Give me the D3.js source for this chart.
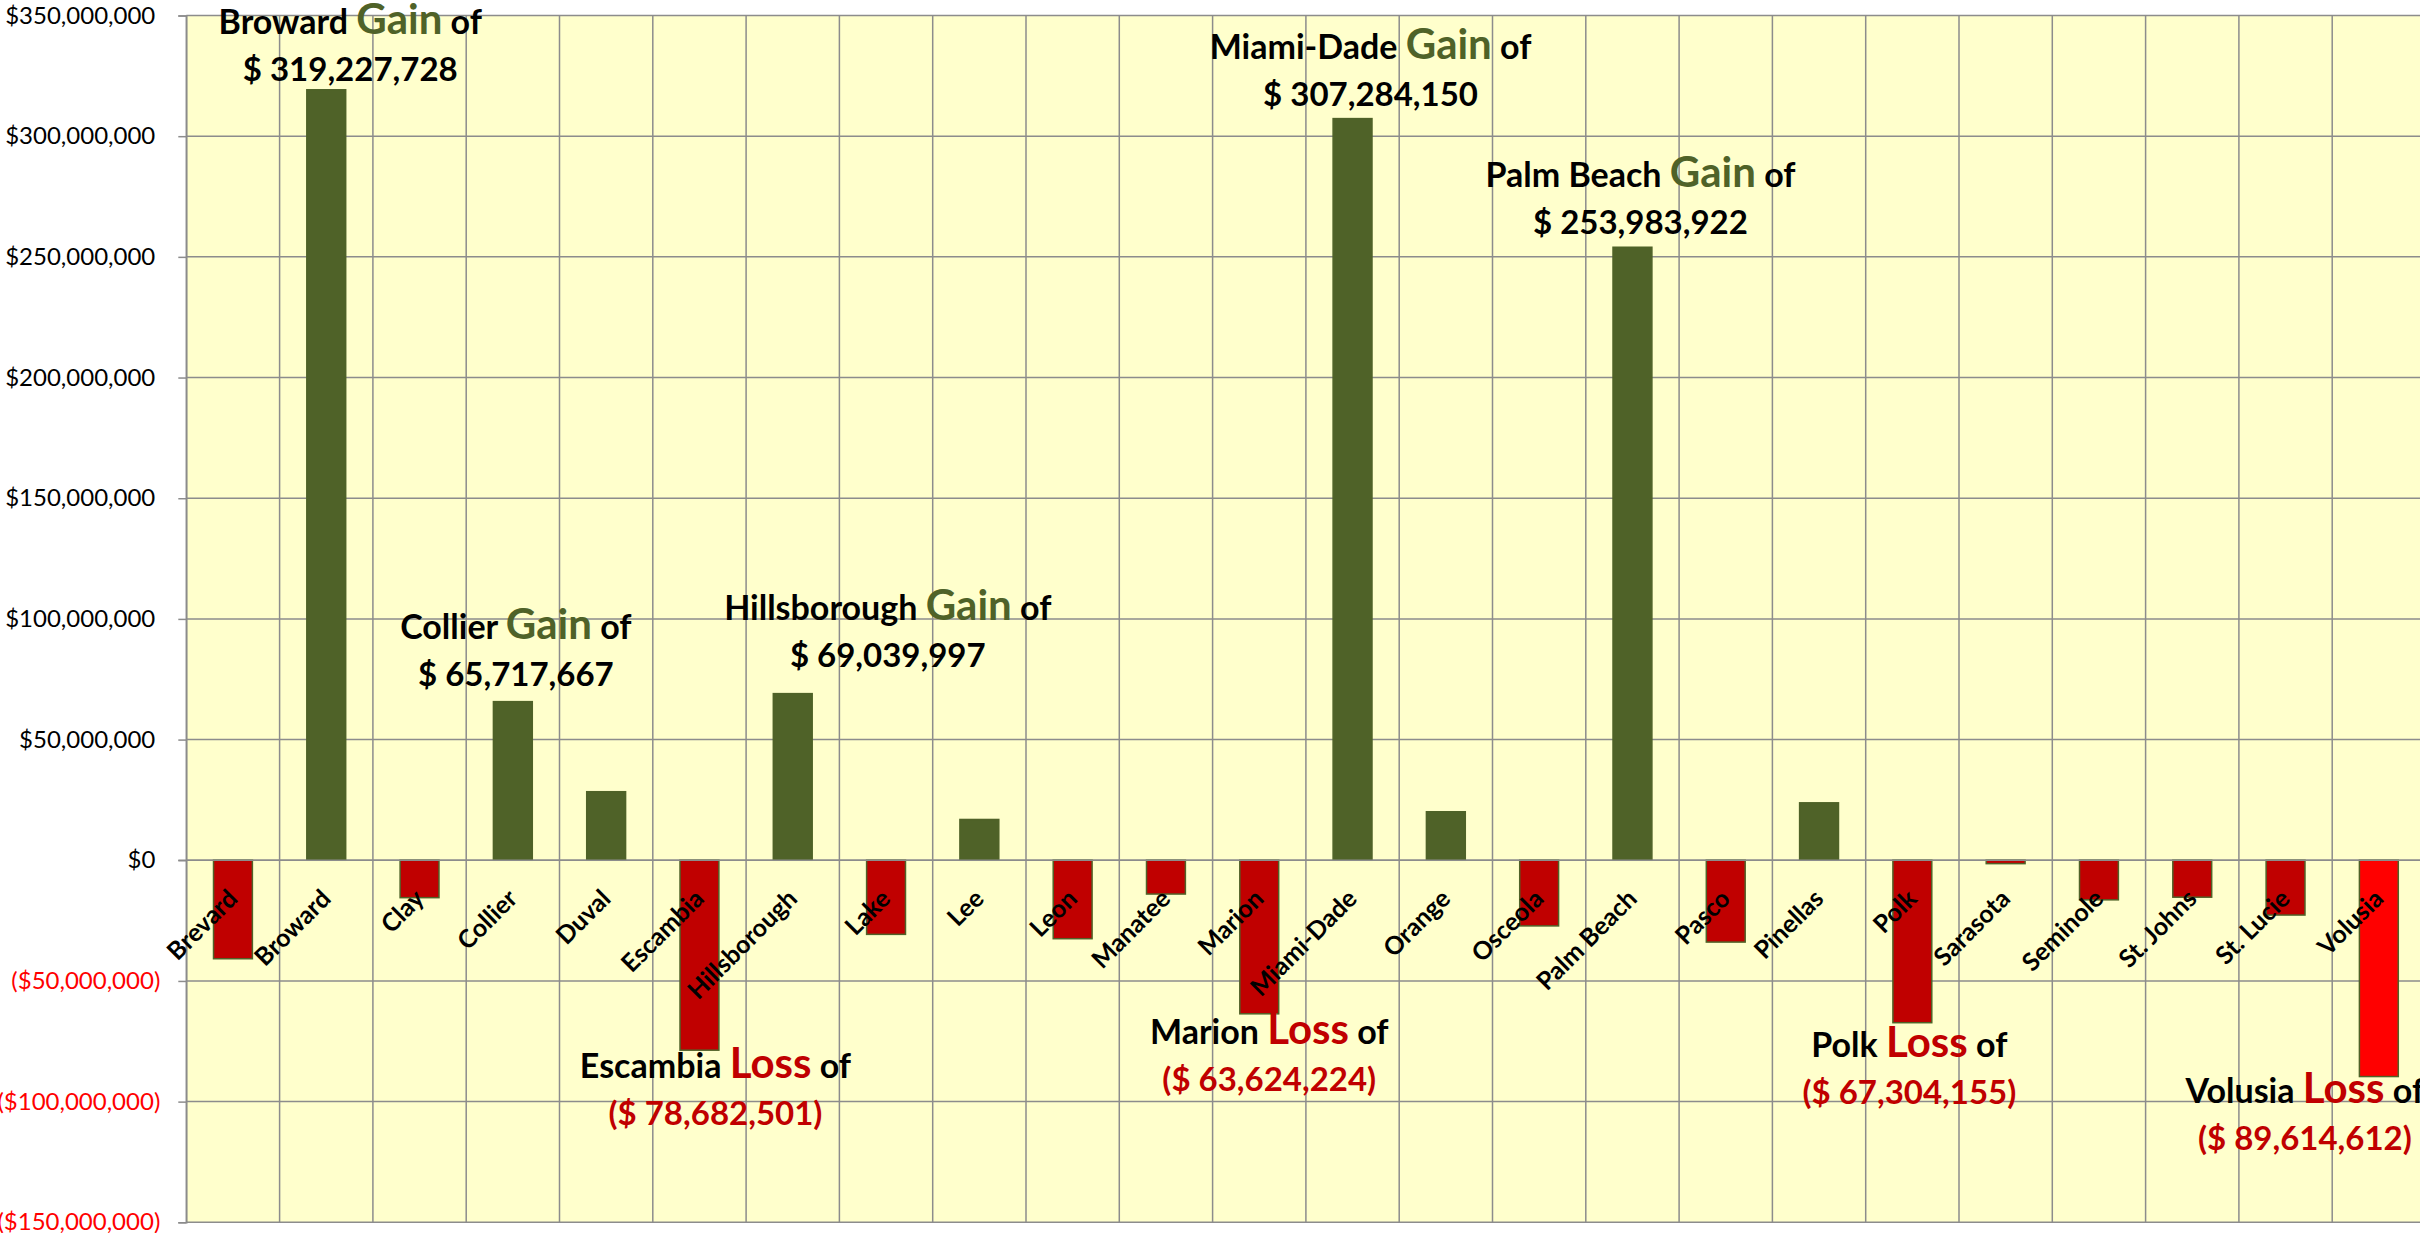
<!DOCTYPE html>
<html>
<head>
<meta charset="utf-8">
<script src="https://cdn.jsdelivr.net/npm/d3@7"></script>
<style>
  body { margin: 0; background: #fff; }
  svg { display: block; font-family: Lato, "Noto Sans", sans-serif; }
</style>
</head>
<body>
<div class="displayArea"></div>
<script>
// county names along the x axis
var counties = ["Brevard", "Broward", "Clay", "Collier", "Duval", "Escambia", "Hillsborough", "Lake", "Lee", "Leon",
    "Manatee", "Marion", "Miami-Dade", "Orange", "Osceola", "Palm Beach", "Pasco", "Pinellas", "Polk", "Sarasota",
    "Seminole", "St. Johns", "St. Lucie", "Volusia"];

// gain / loss per county in dollars (labelled ones are exact)
var amounts = [-40800000, 319227728, -15500000, 65717667, 28400000, -78682501, 69039997, -30700000, 16900000, -32500000,
    -14000000, -63624224, 307284150, 20100000, -27200000, 253983922, -33900000, 23800000, -67304155, -1400000,
    -16400000, -15300000, -22700000, -89614612];

// y axis ticks
var yTicks = [-150000000, -100000000, -50000000, 0, 50000000, 100000000, 150000000, 200000000, 250000000, 300000000, 350000000];

// which counties get a callout
var calloutCounties = ["Broward", "Collier", "Hillsborough", "Miami-Dade", "Palm Beach", "Escambia", "Marion", "Polk", "Volusia"];

var width = 2420, height = 1233;
var plotLeft = 186.3, step = 93.3;
var plotTop = 15.5, plotBottom = 1222.3;

var svg = d3.select(".displayArea").append("svg")
    .attr("width", width)
    .attr("height", height);

var xScale = d3.scaleBand()
    .domain(counties)
    .range([plotLeft, plotLeft + step * counties.length])
    .paddingInner(1.4 / 2.4)
    .paddingOuter(0.7 / 2.4);

var yScale = d3.scaleLinear()
    .domain([d3.min(yTicks), d3.max(yTicks)])
    .range([plotBottom, plotTop]);

var plotRight = plotLeft + step * counties.length;

// plot background
svg.append("rect")
    .attr("x", plotLeft).attr("y", plotTop)
    .attr("width", plotRight - plotLeft).attr("height", plotBottom - plotTop)
    .attr("fill", "#FFFFCC");

// horizontal gridlines
svg.append("g").selectAll("line")
    .data(yTicks)
    .enter().append("line")
    .attr("x1", plotLeft).attr("x2", plotRight)
    .attr("y1", function (d) { return yScale(d); })
    .attr("y2", function (d) { return yScale(d); })
    .attr("stroke", "#8C8C8C").attr("stroke-width", 1.5);

// vertical gridlines at category boundaries
svg.append("g").selectAll("line")
    .data(d3.range(counties.length + 1))
    .enter().append("line")
    .attr("x1", function (i) { return plotLeft + i * xScale.step(); })
    .attr("x2", function (i) { return plotLeft + i * xScale.step(); })
    .attr("y1", plotTop).attr("y2", plotBottom)
    .attr("stroke", "#8C8C8C").attr("stroke-width", 1.5);

// y axis
var money = d3.format("$,");
var yAxis = d3.axisLeft(yScale)
    .tickValues(yTicks)
    .tickSize(8)
    .tickPadding(23)
    .tickFormat(function (d) { return d < 0 ? "(" + money(-d) + ")" : money(d); });

var yG = svg.append("g")
    .attr("transform", `translate(${plotLeft},0)`)
    .call(yAxis);
yG.select(".domain").attr("stroke", "#8C8C8C").attr("stroke-width", 1.5);
yG.selectAll(".tick line").attr("stroke", "#8C8C8C").attr("stroke-width", 1.5);
yG.selectAll(".tick text")
    .attr("font-family", "Lato, sans-serif")
    .attr("font-size", 24)
    .attr("fill", function (d) { return d < 0 ? "#FF0000" : "#000"; })
    .attr("dx", function (d) { return d < 0 ? 5 : 0; });

// bars
svg.append("g").selectAll("rect")
    .data(counties)
    .enter().append("rect")
    .attr("x", function (d) { return xScale(d); })
    .attr("width", xScale.bandwidth())
    .attr("y", function (d, i) { return yScale(Math.max(0, amounts[i])); })
    .attr("height", function (d, i) { return Math.abs(yScale(amounts[i]) - yScale(0)); })
    .attr("fill", function (d, i) {
        if (amounts[i] >= 0) return "#4F6228";
        return d == "Volusia" ? "#FF0000" : "#C00000";
    })
    .attr("stroke", "#4F6228")
    .attr("stroke-width", 1.5);

// zero line over the bars
svg.append("line")
    .attr("x1", plotLeft - 8).attr("x2", plotRight)
    .attr("y1", yScale(0)).attr("y2", yScale(0))
    .attr("stroke", "#8C8C8C").attr("stroke-width", 1.5);

// category labels, rotated
svg.append("g").selectAll("text")
    .data(counties)
    .enter().append("text")
    .attr("transform", function (d) {
        return `translate(${xScale(d) + xScale.bandwidth() / 2 + 6},${yScale(0) + 40}) rotate(-45)`;
    })
    .attr("text-anchor", "end")
    .attr("font-size", 25)
    .attr("font-weight", "bold")
    .attr("fill", "#000")
    .text(function (d) { return d; });

// callouts: nudges so text sits like the original
var nudge = {
    "Broward": [24, -9], "Collier": [3, -16], "Hillsborough": [95, -27], "Miami-Dade": [18, -13],
    "Palm Beach": [8, -13], "Escambia": [16, 28], "Marion": [10, 30], "Polk": [-3, 34], "Volusia": [-74, 26]
};
var lineGap = 47;
var commas = d3.format(",");

calloutCounties.forEach(function (name) {
    var i = counties.indexOf(name),
        v = amounts[i],
        gain = v >= 0,
        cx = xScale(name) + xScale.bandwidth() / 2 + nudge[name][0],
        base = yScale(v) + nudge[name][1];

    var y1 = gain ? base - lineGap : base,
        y2 = gain ? base : base + lineGap;

    var t = svg.append("text")
        .attr("x", cx).attr("y", y1)
        .attr("text-anchor", "middle")
        .attr("font-weight", "bold")
        .attr("font-size", 34)
        .attr("fill", "#000");
    t.append("tspan").text(name + " ");
    t.append("tspan")
        .attr("font-size", 42)
        .attr("fill", gain ? "#4F6228" : "#C00000")
        .text(gain ? "Gain" : "Loss");
    t.append("tspan").text(" of");

    svg.append("text")
        .attr("x", cx).attr("y", y2)
        .attr("text-anchor", "middle")
        .attr("font-weight", "bold")
        .attr("font-size", 33)
        .attr("fill", gain ? "#000" : "#C00000")
        .text(gain ? "$ " + commas(v) : "($ " + commas(-v) + ")");
});
</script>
</body>
</html>
